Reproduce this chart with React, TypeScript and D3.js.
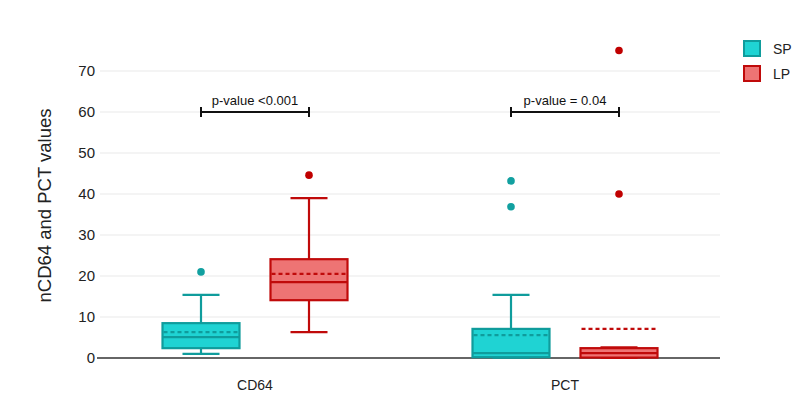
import React from "react";
import * as d3 from "d3";

const categories = ["CD64", "PCT"];
const groups = ["SP", "LP"];
const yTicks = [0, 10, 20, 30, 40, 50, 60, 70];

const spMin = [1.0, 0.1];
const spQ1 = [2.4, 0.2];
const spMedian = [5.1, 1.2];
const spQ3 = [8.5, 7.1];
const spMax = [15.4, 15.4];
const spMean = [6.3, 5.6];
const spOutliers = [[21], [43.2, 36.9]];

const lpMin = [6.3, 0.0];
const lpQ1 = [14.1, 0.1];
const lpMedian = [18.5, 1.2];
const lpQ3 = [24.1, 2.4];
const lpMax = [39.0, 2.6];
const lpMean = [20.5, 7.1];
const lpOutliers = [[44.6], [40, 75]];

const pValues = ["p-value <0.001", "p-value = 0.04"];
const pLevel = 60;

const colors: Record<string, { fill: string; stroke: string; point: string }> = {
  SP: { fill: "#1fd3d3", stroke: "#0f9c9c", point: "#12a0a0" },
  LP: { fill: "#ee7474", stroke: "#c00a0a", point: "#c00000" },
};

const stats = {
  SP: { min: spMin, q1: spQ1, med: spMedian, q3: spQ3, max: spMax, mean: spMean, out: spOutliers },
  LP: { min: lpMin, q1: lpQ1, med: lpMedian, q3: lpQ3, max: lpMax, mean: lpMean, out: lpOutliers },
};

export default function App() {
  const W = 804, H = 394;
  const left = 100, right = 720, top = 71, bottom = 358;
  const x = d3.scaleBand<string>().domain(categories).range([left, right]);
  const bw = x.bandwidth();
  const xg = d3.scalePoint<string>().domain(groups).range([bw / 2 - 54, bw / 2 + 54]);
  const y = d3.scaleLinear().domain([0, 70]).range([bottom, top]);
  const boxW = 77;
  const capW = 37;
  const font = "'Liberation Sans', Arial, Helvetica, sans-serif";

  const gx = (c: string, g: string) => (x(c) as number) + (xg(g) as number);

  return (
    <svg width={W} height={H} style={{ position: "absolute", left: 0, top: 0 }} fontFamily={font}>
      <rect width={W} height={H} fill="#fff" />
      {yTicks.map((t) => (
        <g key={t}>
          {t > 0 && <line x1={left} x2={right} y1={y(t)} y2={y(t)} stroke="#e9e9e9" strokeWidth={1} />}
          <text x={95} y={y(t)} dy="0.35em" textAnchor="end" fontSize={15} fill="#222">{t}</text>
        </g>
      ))}
      <line x1={97} x2={right} y1={y(0)} y2={y(0)} stroke="#333" strokeWidth={1.3} />
      <text transform={`translate(45,${(top + bottom) / 2 - 9}) rotate(-90)`} dy="0.35em" textAnchor="middle" fontSize={18.5} fill="#222">
        nCD64 and PCT values
      </text>
      {categories.map((c) => (
        <text key={c} x={(x(c) as number) + bw / 2} y={390} textAnchor="middle" fontSize={14} fill="#222">{c}</text>
      ))}
      {categories.map((c, i) =>
        groups.map((g) => {
          const s = (stats as any)[g];
          const col = colors[g];
          const cx = gx(c, g);
          return (
            <g key={c + g}>
              <line x1={cx} x2={cx} y1={y(s.q3[i])} y2={y(s.max[i])} stroke={col.stroke} strokeWidth={2.2} />
              <line x1={cx} x2={cx} y1={y(s.q1[i])} y2={y(s.min[i])} stroke={col.stroke} strokeWidth={2.2} />
              <line x1={cx - capW / 2} x2={cx + capW / 2} y1={y(s.max[i])} y2={y(s.max[i])} stroke={col.stroke} strokeWidth={2.2} />
              <line x1={cx - capW / 2} x2={cx + capW / 2} y1={y(s.min[i])} y2={y(s.min[i])} stroke={col.stroke} strokeWidth={2.2} />
              <rect x={cx - boxW / 2} y={y(s.q3[i])} width={boxW} height={y(s.q1[i]) - y(s.q3[i])} fill={col.fill} stroke={col.stroke} strokeWidth={2.2} />
              <line x1={cx - boxW / 2} x2={cx + boxW / 2} y1={y(s.med[i])} y2={y(s.med[i])} stroke={col.stroke} strokeWidth={2.2} />
              <line x1={cx - boxW / 2 + 1} x2={cx + boxW / 2 - 1} y1={y(s.mean[i])} y2={y(s.mean[i])} stroke={col.stroke} strokeWidth={2.2} strokeDasharray="4,3" />
              {s.out[i].map((v: number, k: number) => (
                <circle key={k} cx={cx} cy={y(v)} r={3.8} fill={col.point} />
              ))}
            </g>
          );
        })
      )}
      {categories.map((c, i) => {
        const x1 = gx(c, "SP"), x2 = gx(c, "LP");
        const yy = y(pLevel);
        return (
          <g key={"p" + c}>
            <line x1={x1} x2={x2} y1={yy} y2={yy} stroke="#111" strokeWidth={2} />
            <line x1={x1} x2={x1} y1={yy - 5} y2={yy + 5} stroke="#111" strokeWidth={2} />
            <line x1={x2} x2={x2} y1={yy - 5} y2={yy + 5} stroke="#111" strokeWidth={2} />
            <text x={(x1 + x2) / 2} y={yy - 7} textAnchor="middle" fontSize={13} fill="#111">{pValues[i]}</text>
          </g>
        );
      })}
      {groups.map((g, i) => (
        <g key={"lg" + g} transform={`translate(744,${41 + i * 25})`}>
          <rect x={0} y={0} width={16} height={15} fill={colors[g].fill} stroke={colors[g].stroke} strokeWidth={2} />
          <text x={29} y={8} dy="0.35em" fontSize={14} fill="#222">{g}</text>
        </g>
      ))}
    </svg>
  );
}
